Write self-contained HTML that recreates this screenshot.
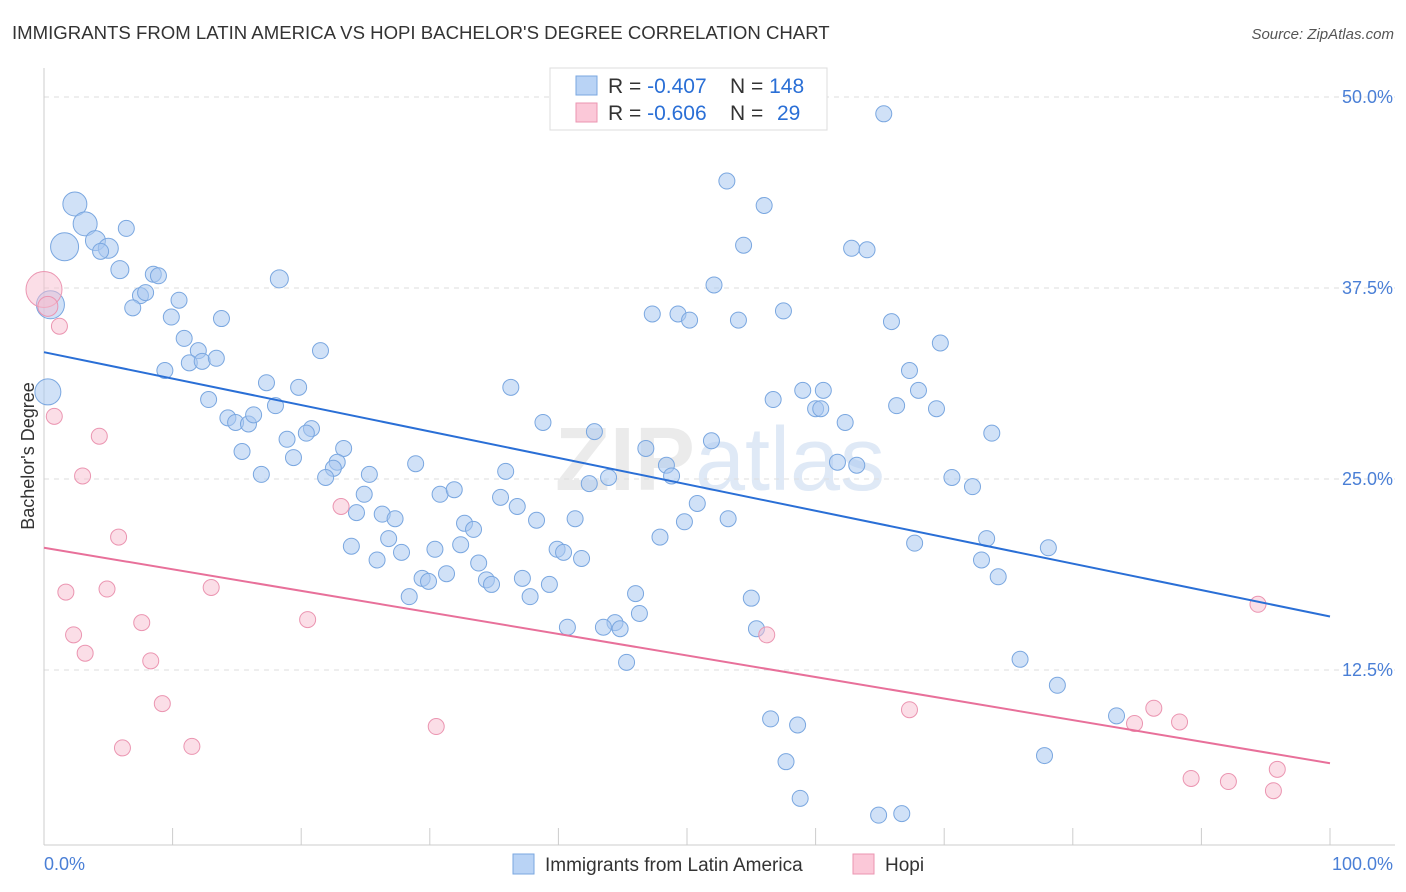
<!DOCTYPE html>
<html><head><meta charset="utf-8"><style>
body{margin:0;background:#fff;font-family:"Liberation Sans",sans-serif;}
svg{display:block}
</style></head><body>
<svg id="chart" width="1406" height="892" xmlns="http://www.w3.org/2000/svg">
<text x="12" y="39" font-size="18.6" fill="#333">IMMIGRANTS FROM LATIN AMERICA VS HOPI BACHELOR'S DEGREE CORRELATION CHART</text>
<text x="1394" y="39" font-size="15" fill="#555" text-anchor="end" font-style="italic">Source: ZipAtlas.com</text>
<text x="720" y="490" font-size="90" fill="#ebebeb" text-anchor="middle" font-weight="bold">ZIP<tspan fill="#dfe9f6" font-weight="normal">atlas</tspan></text>
<g id="grid"></g><g id="axes"></g><g id="marks"></g>
<text x="34" y="456" font-size="18" fill="#333" text-anchor="middle" transform="rotate(-90 34 456)">Bachelor's Degree</text>
<g>
<rect x="550" y="68" width="277" height="62" fill="#fff" stroke="#ddd"/>
<rect x="576" y="76" width="21" height="19" fill="#b9d3f5" stroke="#7aa7e0"/>
<rect x="576" y="103" width="21" height="19" fill="#fbc8d8" stroke="#eb95b1"/>
<text x="608" y="93" font-size="21" fill="#333">R = <tspan fill="#2a6fd6">-0.407</tspan><tspan x="730">N = </tspan><tspan fill="#2a6fd6">148</tspan></text>
<text x="608" y="120" font-size="21" fill="#333">R = <tspan fill="#2a6fd6">-0.606</tspan><tspan x="730">N = </tspan><tspan fill="#2a6fd6" x="777">29</tspan></text>
</g>
<g>
<rect x="513" y="854" width="21" height="20" fill="#b9d3f5" stroke="#7aa7e0"/>
<text x="545" y="871" font-size="19" fill="#333">Immigrants from Latin America</text>
<rect x="853" y="854" width="21" height="20" fill="#fbc8d8" stroke="#eb95b1"/>
<text x="885" y="871" font-size="19" fill="#333">Hopi</text>
</g>
</svg>
<script>
const yTicks=[12.5,25,37.5,50];
const yTickLabels=["12.5%","25.0%","37.5%","50.0%"];
const xTickLabels=["0.0%","100.0%"];
const blueX=[2.4,3.2,1.6,4.0,5.0,4.4,6.4,5.9,0.5,0.3,8.5,8.9,7.5,7.9,6.9,10.5,9.9,13.8,10.9,12.0,11.3,12.3,13.4,9.4,18.3,21.5,17.3,19.8,12.8,18.0,14.3,14.9,15.9,16.3,18.9,20.8,20.4,15.4,19.4,23.3,16.9,22.8,22.5,21.9,25.3,24.9,24.3,26.3,27.3,28.9,30.8,31.9,32.7,33.4,26.8,23.9,25.9,27.8,30.4,32.4,33.8,31.3,29.4,29.9,34.4,34.8,28.4,36.3,38.8,35.9,35.5,36.8,38.3,41.3,39.9,40.4,41.8,37.2,39.3,37.8,42.8,42.4,43.9,46.8,48.4,48.8,51.9,50.8,49.8,53.2,47.9,46.0,46.3,44.4,43.5,44.8,40.7,45.3,47.3,49.3,50.2,52.1,54.0,57.5,53.1,56.0,54.4,62.8,64.0,65.3,65.9,69.7,67.3,68.0,66.3,69.4,59.0,60.6,56.7,60.0,60.4,62.3,73.7,61.7,63.2,70.6,72.2,67.7,73.3,78.1,72.9,74.2,55.0,55.4,75.9,78.8,56.5,58.6,83.4,57.7,77.8,58.8,64.9,66.7];
const blueY=[43.0,41.7,40.2,40.6,40.1,39.9,41.4,38.7,36.4,30.7,38.4,38.3,37.0,37.2,36.2,36.7,35.6,35.5,34.2,33.4,32.6,32.7,32.9,32.1,38.1,33.4,31.3,31.0,30.2,29.8,29.0,28.7,28.6,29.2,27.6,28.3,28.0,26.8,26.4,27.0,25.3,26.1,25.7,25.1,25.3,24.0,22.8,22.7,22.4,26.0,24.0,24.3,22.1,21.7,21.1,20.6,19.7,20.2,20.4,20.7,19.5,18.8,18.5,18.3,18.4,18.1,17.3,31.0,28.7,25.5,23.8,23.2,22.3,22.4,20.4,20.2,19.8,18.5,18.1,17.3,28.1,24.7,25.1,27.0,25.9,25.2,27.5,23.4,22.2,22.4,21.2,17.5,16.2,15.6,15.3,15.2,15.3,13.0,35.8,35.8,35.4,37.7,35.4,36.0,44.5,42.9,40.3,40.1,40.0,48.9,35.3,33.9,32.1,30.8,29.8,29.6,30.8,30.8,30.2,29.6,29.6,28.7,28.0,26.1,25.9,25.1,24.5,20.8,21.1,20.5,19.7,18.6,17.2,15.2,13.2,11.5,9.3,8.9,9.5,6.5,6.9,4.1,3.0,3.1];
const blueR=[12,12,14,10,10,8,8,9,14,13,8,8,8,8,8,8,8,8,8,8,8,8,8,8,9];
const pinkX=[0,0.3,1.2,0.8,4.3,3.0,5.8,1.7,4.9,13.0,2.3,3.2,7.6,8.3,20.5,23.1,9.2,6.1,11.5,30.5,56.2,67.3,94.4,86.3,84.8,88.3,89.2,92.1,95.9,95.6];
const pinkY=[37.4,36.3,35.0,29.1,27.8,25.2,21.2,17.6,17.8,17.9,14.8,13.6,15.6,13.1,15.8,23.2,10.3,7.4,7.5,8.8,14.8,9.9,16.8,10.0,9.0,9.1,5.4,5.2,6.0,4.6];
const pinkR=[18,10];
const blueTrend=[33.3,16.0];
const pinkTrend=[20.5,6.4];

const NS="http://www.w3.org/2000/svg";
const X0=44,X1=1330,YB=861,PPU=15.28;
const sx=v=>X0+(X1-X0)*v/100;
const sy=v=>YB-v*PPU;
function mk(tag,attrs,parent){const e=document.createElementNS(NS,tag);for(const k in attrs)e.setAttribute(k,attrs[k]);parent.appendChild(e);return e;}
const grid=document.getElementById('grid'),axes=document.getElementById('axes'),marks=document.getElementById('marks');
yTicks.forEach((t,i)=>{
 const l=mk('line',{x1:44,x2:1395,y1:sy(t),y2:sy(t),stroke:'#ddd','stroke-dasharray':'5,5'},grid);
 
 
 const tx=mk('text',{x:1393,y:sy(t)+6,'font-size':18,fill:'#4a7fd6','text-anchor':'end'},grid);
 tx.textContent=yTickLabels[i];
 
 
});
let e=mk('line',{x1:44,x2:1395,y1:845,y2:845,stroke:'#ccc'},axes);


e=mk('line',{x1:44,x2:44,y1:68,y2:845,stroke:'#ccc'},axes);


for(let i=0;i<=10;i++){
 const t=mk('line',{x1:sx(i*10),x2:sx(i*10),y1:828,y2:845,stroke:'#ccc'},axes);
 
 
}
[[0,'start',44],[100,'end',1393]].forEach((d,i)=>{
 const t=mk('text',{x:d[2],y:870,'font-size':18,fill:'#4a7fd6','text-anchor':d[1]},axes);
 t.textContent=xTickLabels[i];
 
 
});
blueX.forEach((x,i)=>{
 const c=mk('circle',{cx:sx(x),cy:sy(blueY[i]),r:blueR[i]||8,fill:'rgba(169,200,240,0.55)',stroke:'#7aa7e0','stroke-width':1},marks);
 
 
});
pinkX.forEach((x,i)=>{
 const c=mk('circle',{cx:sx(x),cy:sy(pinkY[i]),r:pinkR[i]||8,fill:'rgba(248,190,208,0.5)',stroke:'#eb95b1','stroke-width':1},marks);
 
 
});
let tl=mk('line',{x1:sx(0),y1:sy(blueTrend[0]),x2:sx(100),y2:sy(blueTrend[1]),stroke:'#2a6fd6','stroke-width':2},marks);


tl=mk('line',{x1:sx(0),y1:sy(pinkTrend[0]),x2:sx(100),y2:sy(pinkTrend[1]),stroke:'#e8709a','stroke-width':2},marks);


</script>
</body></html>
